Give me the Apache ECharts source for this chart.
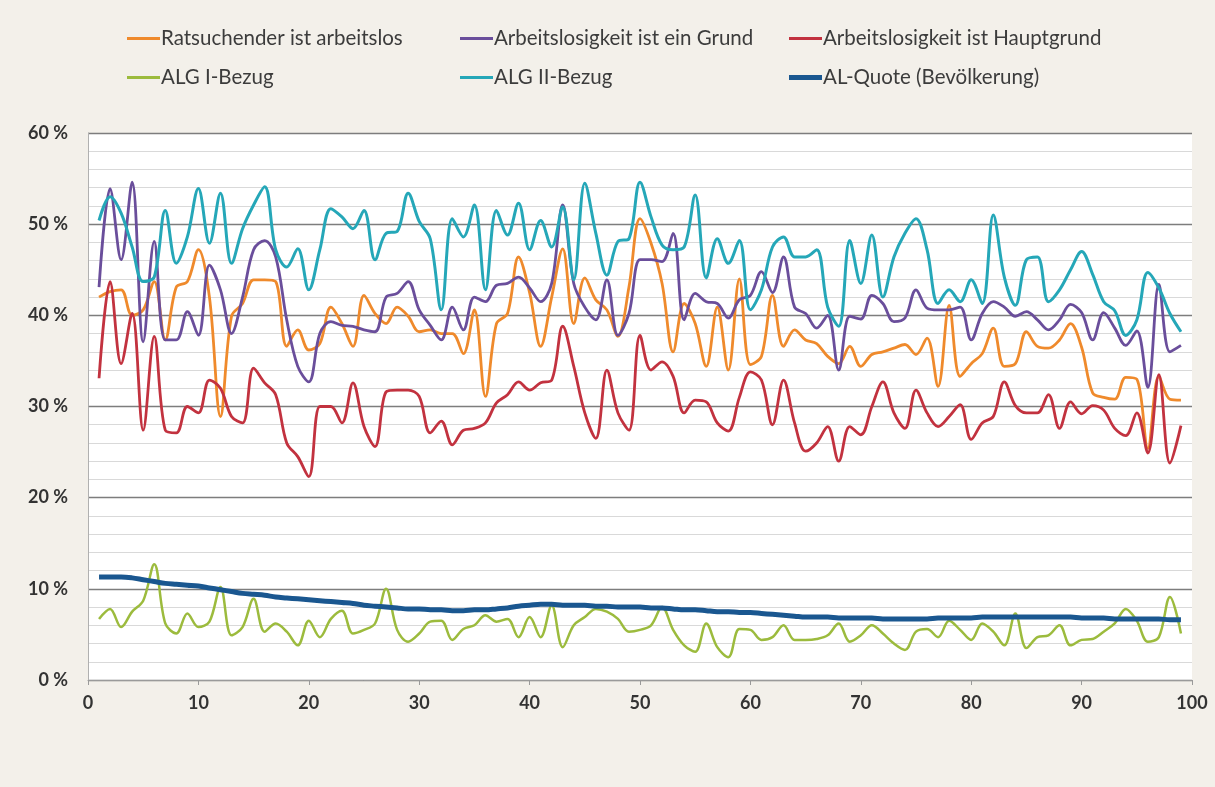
<!DOCTYPE html>
<html>
<head>
<meta charset="utf-8">
<script src="https://cdn.jsdelivr.net/npm/echarts@6/dist/echarts.min.js"></script>
<style>
  html, body { margin: 0; padding: 0; background: #f3f0ea; }
  #chart { width: 1215px; height: 787px; }
</style>
</head>
<body>
<div id="chart"></div>
<script>
// x positions 1..99
var xValues = [];
for (var i = 1; i <= 99; i++) xValues.push(i);

var seriesNames = [
    'Ratsuchender ist arbeitslos',
    'Arbeitslosigkeit ist ein Grund',
    'Arbeitslosigkeit ist Hauptgrund',
    'ALG I-Bezug',
    'ALG II-Bezug',
    'AL-Quote (Bevölkerung)'
];

var ratsuchend = [
    42.0, 42.6, 42.8, 40.0, 40.6, 43.7, 37.3, 43.1, 43.7, 47.2,
    42.0, 28.9, 39.9, 41.3, 43.9, 43.9, 43.7, 36.6, 38.4, 36.2,
    36.9, 40.9, 39.1, 36.6, 42.2, 40.2, 39.1, 40.9, 39.9, 38.2,
    38.4, 38.0, 38.0, 35.8, 40.6, 31.1, 39.1, 40.2, 46.4, 42.5,
    36.6, 42.0, 47.3, 39.1, 44.1, 41.7, 40.6, 37.7, 43.1, 50.6,
    47.9, 43.5, 36.0, 41.3, 39.1, 34.4, 40.9, 34.0, 44.0, 34.6,
    35.5, 42.2, 36.6, 38.4, 37.3, 36.9, 35.5, 34.7, 36.6, 34.4,
    35.7, 36.0, 36.4, 36.8, 35.7, 37.5, 32.2, 41.1, 33.3, 34.7,
    35.8, 38.6, 34.4, 34.7, 38.2, 36.6, 36.4, 37.3, 39.1, 36.5,
    31.5, 31.0, 30.8, 33.2, 33.0, 25.4, 33.3, 30.8, 30.7
];

var einGrund = [
    43.1, 53.9, 46.1, 54.6, 37.1, 48.1, 37.3, 37.3, 40.4, 37.8,
    45.5, 42.8, 38.0, 42.0, 47.2, 48.2, 46.4, 39.5, 34.4, 32.7,
    38.0, 39.3, 38.9, 38.8, 38.4, 38.2, 42.0, 42.4, 43.7, 40.6,
    38.9, 37.3, 40.9, 38.4, 42.0, 41.5, 43.3, 43.5, 44.2, 43.0,
    41.5, 43.5, 52.1, 43.5, 40.9, 39.5, 43.9, 37.8, 40.2, 46.1,
    46.1, 45.9, 49.0, 39.5, 42.4, 41.5, 41.3, 39.7, 41.7, 42.2,
    44.8, 42.5, 46.4, 40.9, 40.2, 38.6, 40.0, 34.0, 39.9, 39.6,
    42.2, 41.3, 39.3, 39.7, 42.8, 40.8, 40.6, 40.6, 40.9, 37.3,
    40.2, 41.5, 40.9, 39.9, 40.4, 39.5, 38.4, 39.5, 41.2, 40.3,
    37.3, 40.3, 38.6, 36.7, 38.3, 32.1, 43.4, 36.0, 36.7
];

var hauptgrund = [
    33.1, 43.7, 34.7, 40.2, 27.4, 37.7, 27.4, 27.1, 30.0, 29.3,
    32.9, 32.0, 28.9, 28.2, 34.2, 32.6, 31.3, 26.0, 24.5, 22.3,
    30.0, 30.0, 28.2, 32.6, 27.8, 25.6, 31.6, 31.8, 31.8, 31.1,
    27.1, 28.4, 25.8, 27.4, 27.6, 28.2, 30.4, 31.3, 32.7, 31.8,
    32.6, 32.9, 38.8, 34.4, 29.3, 26.5, 34.0, 29.3, 27.4, 37.8,
    34.0, 34.9, 33.3, 29.3, 30.7, 30.5, 28.2, 27.3, 31.0, 33.8,
    32.9, 28.0, 32.9, 28.2, 25.1, 26.0, 27.8, 24.0, 27.8, 26.9,
    30.0, 32.7, 29.3, 27.6, 31.8, 29.3, 27.8, 28.9, 30.2, 26.4,
    28.2, 28.9, 32.7, 30.1, 29.3, 29.3, 31.3, 27.6, 30.5, 29.2,
    30.1, 29.6, 27.6, 26.8, 29.3, 24.9, 33.5, 23.8, 27.9
];

var algI = [
    6.7, 7.8, 5.8, 7.5, 8.7, 12.7, 6.2, 5.1, 7.3, 5.8,
    6.4, 10.2, 4.9, 5.8, 8.9, 5.3, 6.2, 5.3, 3.8, 6.5,
    4.7, 6.7, 7.6, 5.1, 5.5, 6.2, 10.0, 5.5, 4.2, 5.1,
    6.4, 6.5, 4.4, 5.6, 6.0, 7.1, 6.4, 6.7, 4.7, 6.9,
    4.7, 8.2, 3.6, 6.0, 6.9, 7.8, 7.5, 6.7, 5.3, 5.5,
    6.0, 8.0, 5.5, 3.8, 3.1, 6.2, 3.6, 2.5, 5.6, 5.5,
    4.4, 4.7, 6.0, 4.4, 4.4, 4.5, 4.9, 6.2, 4.2, 4.9,
    6.0, 5.1, 4.0, 3.3, 5.3, 5.6, 4.7, 6.5, 5.5, 4.4,
    6.2, 5.3, 3.8, 7.3, 3.5, 4.7, 4.9, 6.0, 3.8, 4.4,
    4.5, 5.3, 6.2, 7.8, 6.5, 4.2, 4.7, 9.1, 5.1
];

var algII = [
    50.4, 53.0, 51.2, 47.5, 43.7, 44.2, 51.5, 45.7, 48.6, 53.9,
    47.9, 53.4, 45.7, 49.5, 52.1, 54.1, 47.2, 45.3, 47.3, 42.8,
    47.2, 51.7, 50.8, 49.5, 51.5, 46.1, 49.0, 49.2, 53.4, 50.3,
    48.4, 40.6, 50.6, 48.6, 52.1, 42.8, 51.5, 48.8, 52.3, 47.2,
    50.4, 47.5, 51.9, 43.9, 54.5, 49.0, 44.4, 48.1, 48.4, 54.6,
    50.8, 47.7, 47.2, 47.5, 53.2, 44.1, 48.4, 45.7, 48.2, 40.6,
    42.8, 47.5, 48.6, 46.4, 46.4, 47.2, 40.9, 38.8, 48.2, 43.5,
    48.8, 42.0, 46.4, 49.0, 50.6, 47.2, 41.3, 42.8, 41.5, 43.9,
    41.3, 51.0, 44.2, 41.1, 46.1, 46.4, 41.5, 42.8, 45.0, 47.0,
    44.5, 41.5, 40.5, 37.8, 39.5, 44.7, 43.0, 40.2, 38.2
];

var alQuote = [
    11.3, 11.3, 11.3, 11.2, 11.0, 10.8, 10.6, 10.5, 10.4, 10.3,
    10.1, 9.9, 9.7, 9.5, 9.4, 9.3, 9.1, 9.0, 8.9, 8.8,
    8.7, 8.6, 8.5, 8.4, 8.2, 8.1, 8.0, 7.9, 7.8, 7.8,
    7.7, 7.7, 7.6, 7.6, 7.7, 7.7, 7.8, 7.9, 8.1, 8.2,
    8.3, 8.3, 8.2, 8.2, 8.2, 8.1, 8.1, 8.0, 8.0, 8.0,
    7.9, 7.9, 7.8, 7.7, 7.7, 7.6, 7.5, 7.5, 7.4, 7.4,
    7.3, 7.2, 7.1, 7.0, 6.9, 6.9, 6.9, 6.8, 6.8, 6.8,
    6.8, 6.7, 6.7, 6.7, 6.7, 6.7, 6.8, 6.8, 6.8, 6.8,
    6.9, 6.9, 6.9, 6.9, 6.9, 6.9, 6.9, 6.9, 6.9, 6.8,
    6.8, 6.8, 6.7, 6.7, 6.7, 6.7, 6.7, 6.6, 6.6
];

var colors = ['#ef8a2c', '#6a4e9b', '#c2323f', '#9cbb3d', '#25a7b8', '#1a5790'];
var widths = [2.8, 2.8, 2.8, 2.5, 3, 5];
var allValues = [ratsuchend, einGrund, hauptgrund, algI, algII, alQuote];

// legend positions (two rows, three columns)
var legendPos = [
    { left: 122, top: 23 }, { left: 455, top: 23 }, { left: 784, top: 23 },
    { left: 122, top: 62 }, { left: 455, top: 62 }, { left: 784, top: 62 }
];

function pairs(vals) {
    return xValues.map(function (x, i) { return [x, vals[i]]; });
}

var chart = echarts.init(document.getElementById('chart'));

var option = {
    backgroundColor: '#f3f0ea',
    textStyle: { fontFamily: 'Lato' },
    legend: seriesNames.map(function (name, i) {
        return {
            data: [name],
            left: legendPos[i].left,
            top: legendPos[i].top,
            icon: 'rect',
            itemWidth: 33,
            itemHeight: i === 5 ? 5 : 3,
            itemGap: 0,
            selectedMode: false,
            textStyle: { fontSize: 20.5, color: '#3c3c3c', padding: [0, 0, 0, -4] }
        };
    }),
    grid: {
        left: 88,
        right: 23,
        top: 133,
        bottom: 107,
        show: true,
        backgroundColor: '#ffffff',
        borderWidth: 0
    },
    xAxis: {
        type: 'value',
        min: 0,
        max: 100,
        interval: 10,
        axisLine: { show: true, lineStyle: { color: '#9a9a9a', width: 1 } },
        axisTick: { show: true, length: 5, lineStyle: { color: '#9a9a9a' } },
        axisLabel: { fontSize: 18, color: '#333333', margin: 14, fontWeight: 'bold' },
        splitLine: { show: false }
    },
    yAxis: {
        type: 'value',
        min: 0,
        max: 60,
        interval: 10,
        axisLine: { show: true, lineStyle: { color: '#b0b0b0', width: 1 } },
        axisTick: { show: false },
        axisLabel: {
            fontSize: 18, color: '#333333', margin: 20, fontWeight: 'bold',
            formatter: '{value} %'
        },
        splitLine: { show: true, lineStyle: { color: '#7d7d7d', width: 1.3 } },
        minorTick: { show: false, splitNumber: 5 },
        minorSplitLine: { show: true, lineStyle: { color: '#d9d9d9', width: 1 } }
    },
    series: seriesNames.map(function (name, i) {
        return {
            name: name,
            type: 'line',
            smooth: 0.35,
            showSymbol: false,
            color: colors[i],
            lineStyle: { color: colors[i], width: widths[i] },
            data: pairs(allValues[i]),
            z: 2 + i
        };
    })
};

chart.setOption(option);
</script>
</body>
</html>
